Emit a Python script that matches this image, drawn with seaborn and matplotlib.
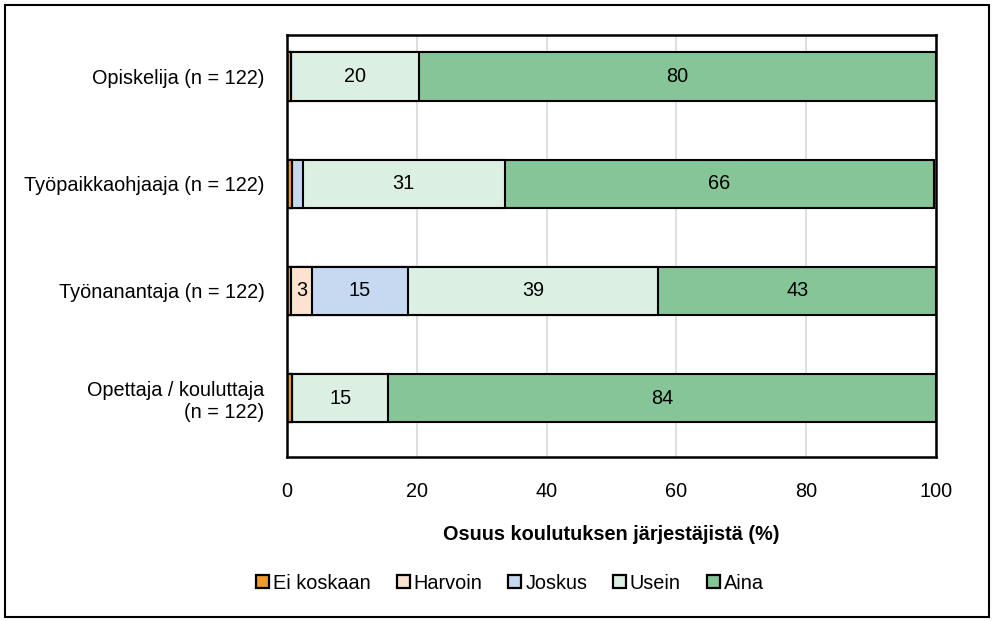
import matplotlib
matplotlib.use("Agg")
import matplotlib.pyplot as plt
from matplotlib.patches import Patch, Rectangle
import numpy as np
import pandas as pd
import seaborn as sns

# Respondent groups and answer shares (%)
groups = ["Opiskelija (n = 122)", "Työpaikkaohjaaja (n = 122)",
          "Työnanantaja (n = 122)", "Opettaja / kouluttaja\n(n = 122)"]
answers = ["Ei koskaan", "Harvoin", "Joskus", "Usein", "Aina"]
ei_koskaan = [0.6, 0.8, 0.6, 0.8]
harvoin = [0.0, 0.0, 3.3, 0.0]
joskus = [0.0, 1.6, 14.7, 0.0]
usein = [19.7, 31.2, 38.6, 14.8]
aina = [79.7, 66.1, 42.8, 84.4]
xticks = [0, 20, 40, 60, 80, 100]

colors = ["#EE9A30", "#FDE3CF", "#C6D9F1", "#DCEFE3", "#86C598"]

sns.set_theme(style="white")
plt.rcParams["font.family"] = ["Liberation Sans", "DejaVu Sans"]
plt.rcParams["text.color"] = "black"
plt.rcParams["axes.labelcolor"] = "black"

FS = 14.3

values = np.array([ei_koskaan, harvoin, joskus, usein, aina])
cum = np.cumsum(values, axis=0)
starts = cum - values

fig = plt.figure(figsize=(9.94, 6.21), dpi=100)
ax = fig.add_axes([0.2887, 0.2640, 0.6530, 0.6800])

# Stacked bars: draw cumulative totals from the outermost segment inwards
for i in range(len(answers) - 1, -1, -1):
    df = pd.DataFrame({"group": groups, "value": cum[i]})
    sns.barplot(data=df, x="value", y="group", order=groups, orient="h",
                color=colors[i], saturation=1, width=0.45,
                edgecolor="black", linewidth=1.5, ax=ax)

# Segment value labels
for i in range(len(answers)):
    for j in range(len(groups)):
        v = values[i, j]
        if v >= 3:
            ax.text(starts[i, j] + v / 2, j, f"{v:.0f}", ha="center",
                    va="center", fontsize=FS, color="black")

ax.set_xlim(0, 100)
ax.set_ylim(3.55, -0.39)
ax.set_xticks(xticks)
ax.set_xticklabels([str(t) for t in xticks])
ax.tick_params(axis="x", length=0, pad=18, labelsize=FS, colors="black")
ax.tick_params(axis="y", length=0, pad=16, labelsize=FS, colors="black")
for lab in ax.get_yticklabels():
    lab.set_horizontalalignment("right")
    lab.set_multialignment("right")
ax.xaxis.grid(True, color="#D9D9D9", linewidth=1.2)
ax.yaxis.grid(False)
ax.set_axisbelow(True)
for s in ax.spines.values():
    s.set_color("black")
    s.set_linewidth(1.8)
ax.set_ylabel("")
ax.set_xlabel("Osuus koulutuksen järjestäjistä (%)", fontsize=FS,
              fontweight="bold", labelpad=17, color="black")

handles = [Patch(facecolor=c, edgecolor="black", linewidth=1.6, label=a)
           for a, c in zip(answers, colors)]
leg = fig.legend(handles=handles, loc="center", bbox_to_anchor=(0.513, 0.061),
                 ncol=5, frameon=False, fontsize=FS, handlelength=0.65,
                 handleheight=0.65, handletextpad=0.2, columnspacing=1.3)
for t in leg.get_texts():
    t.set_color("black")

# Outer frame around the whole figure
fig.patches.append(Rectangle((0.005, 0.006), 0.99, 0.986,
                             transform=fig.transFigure, fill=False,
                             edgecolor="black", linewidth=1.5))

fig.savefig("out.png", dpi=100)
